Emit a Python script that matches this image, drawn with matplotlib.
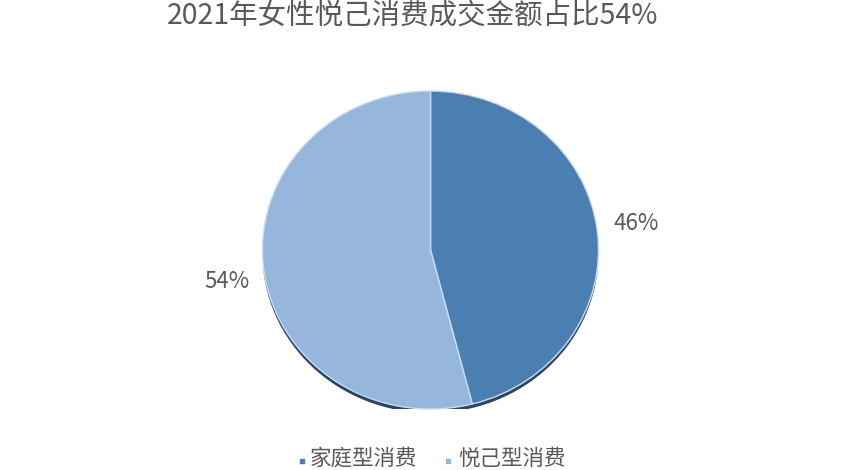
import matplotlib
matplotlib.use("Agg")
import matplotlib.pyplot as plt
from matplotlib.patches import Ellipse

plt.rcParams['font.family'] = ['Noto Sans CJK SC', 'DejaVu Sans']

title = "2021年女性悦己消费成交金额占比54%"
categories = ["家庭型消费", "悦己型消费"]
values = [46, 54]
colors = ["#4B7FB2", "#96B7DB"]
text_color = "#595959"

W, H = 852, 470
fig = plt.figure(figsize=(W / 100, H / 100), dpi=100)
fig.patch.set_facecolor("white")

# pie axes (slightly flattened ellipse like the reference)
cx, cy, rx, ry = 430.5, 250, 168, 159
pax = fig.add_axes([(cx - rx) / W, (H - cy - ry) / H, 2 * rx / W, 2 * ry / H])
pax.axis("off")
# shadow
pax.add_patch(Ellipse((0, -0.025), 2.0, 2.0, facecolor="#2C4460", edgecolor="none", zorder=0))
wedges, _ = pax.pie(values, colors=colors, startangle=90, counterclock=False,
                    radius=1.0, center=(0, 0),
                    wedgeprops=dict(edgecolor="#C9DCF0", linewidth=1.0))
for w in wedges:
    w.set_zorder(2)
pax.set_aspect("auto")
pax.set_xlim(-1, 1)
pax.set_ylim(-1, 1)

# overlay axes in pixel coordinates
ax = fig.add_axes([0, 0, 1, 1])
ax.set_xlim(0, W)
ax.set_ylim(H, 0)
ax.axis("off")
ax.patch.set_alpha(0)

ax.text(413, 16, title, ha="center", va="center", fontsize=20.5,
        color=text_color, fontweight="medium")

ax.text(636, 224, f"{values[0]}%", ha="center", va="center", fontsize=16,
        color=text_color, fontweight="medium")
ax.text(227, 282, f"{values[1]}%", ha="center", va="center", fontsize=16,
        color=text_color, fontweight="medium")

# legend
leg_y = 459
ax.scatter([302, 448], [leg_y + 2, leg_y + 2], s=10, c=colors, marker="s", clip_on=False)
ax.text(310, leg_y, categories[0], ha="left", va="center", fontsize=15.5, color=text_color)
ax.text(458, leg_y, categories[1], ha="left", va="center", fontsize=15.5, color=text_color)

fig.savefig("out.png", dpi=100, facecolor="white")
